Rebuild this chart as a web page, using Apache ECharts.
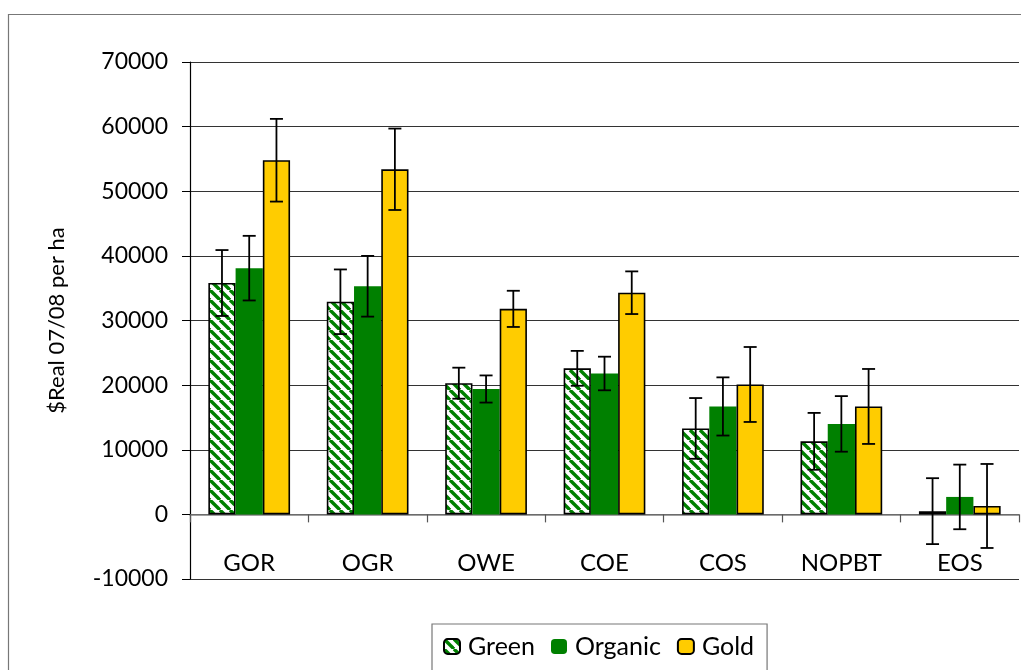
<!DOCTYPE html>
<html><head><meta charset="utf-8">
<script src="https://cdn.jsdelivr.net/npm/echarts@6/dist/echarts.min.js"></script>
<style>html,body{margin:0;padding:0;background:#fff}#c{width:1021px;height:670px}</style>
</head><body><div id="c"></div>
<script>
const categories = ['GOR','OGR','OWE','COE','COS','NOPBT','EOS'];
const seriesNames = ['Green','Organic','Gold'];
const greenVals = [35800, 32900, 20300, 22600, 13300, 11300, 500];
const greenErr  = [5100, 5000, 2400, 2700, 4700, 4400, 5100];
const organicVals = [38100, 35300, 19400, 21800, 16700, 14000, 2700];
const organicErr  = [5000, 4700, 2100, 2600, 4500, 4300, 5000];
const goldVals = [54800, 53400, 31800, 34300, 20100, 16700, 1300];
const goldErr  = [6400, 6300, 2800, 3300, 5800, 5800, 6500];
const yTicks = {min: -10000, max: 70000, interval: 10000};
const yName = '$Real 07/08 per ha';

function stripe(){
  const s = 10, c = document.createElement('canvas');
  c.width = s; c.height = s;
  const ctx = c.getContext('2d');
  ctx.fillStyle = '#ffffff'; ctx.fillRect(0,0,s,s);
  ctx.strokeStyle = '#008000'; ctx.lineWidth = 3.4;
  for (const x0 of [-s, 0, s]) { ctx.beginPath(); ctx.moveTo(x0,0); ctx.lineTo(x0+s,s); ctx.stroke(); }
  return {image: c, repeat: 'repeat'};
}
const FONT = 'Lato';
const BW = 0.23;
const vals = [greenVals, organicVals, goldVals];
const errs = [greenErr, organicErr, goldErr];
const styles = [
  {color: stripe(), borderColor: '#000', borderWidth: 1.6},
  {color: '#008000', borderWidth: 0},
  {color: '#FFCC00', borderColor: '#000', borderWidth: 1.6}
];
const series = seriesNames.map((n,i)=>({
  name: n, type: 'bar', data: vals[i], barWidth: (BW*100)+'%', barGap: '0%',
  itemStyle: styles[i], z: 2
}));
seriesNames.forEach((n,i)=>{
  series.push({
    type: 'custom', name: n + ' err', z: 5, silent: true,
    data: vals[i].map((v,k)=>[k, v, errs[i][k]]),
    encode: {x: 0, y: 1},
    renderItem: function(params, api){
      const k = api.value(0), v = api.value(1), e = api.value(2);
      const band = api.size([1,0])[0];
      const off = (i-1)*band*BW;
      const t = api.coord([k, v+e]), b = api.coord([k, v-e]);
      const x = t[0] + off, cap = 6.5;
      const st = {stroke: '#000', lineWidth: 1.8};
      return {type: 'group', children: [
        {type:'line', shape:{x1:x, y1:t[1], x2:x, y2:b[1]}, style: st},
        {type:'line', shape:{x1:x-cap, y1:t[1], x2:x+cap, y2:t[1]}, style: st},
        {type:'line', shape:{x1:x-cap, y1:b[1], x2:x+cap, y2:b[1]}, style: st}
      ]};
    }
  });
});

const chart = echarts.init(document.getElementById('c'), null, {renderer: 'canvas'});
chart.setOption({
  animation: false,
  backgroundColor: '#fff',
  graphic: [{type:'rect', z: -10, shape:{x: 8.5, y: 14.5, width: 1200, height: 800}, style:{fill:'none', stroke:'#777', lineWidth:1.2}}],
  grid: {left: 190, right: 2, top: 62, bottom: 91},
  legend: {
    data: seriesNames, left: 432, top: 624, orient: 'horizontal',
    borderColor: '#777', borderWidth: 1.2, padding: [10, 13, 20, 11],
    itemWidth: 16, itemHeight: 15, itemGap: 16,
    textStyle: {fontFamily: FONT, fontSize: 25, color: '#000', padding: [0,0,0,3]}
  },
  xAxis: {
    type: 'category', data: categories,
    axisLine: {onZero: true, lineStyle: {color: '#808080', width: 1.5}},
    axisTick: {show: true, length: 8, lineStyle: {color: '#555', width: 1.2}},
    axisLabel: {margin: -28, fontFamily: FONT, fontSize: 24, color: '#000'},
    splitLine: {show: false}
  },
  yAxis: {
    type: 'value', min: yTicks.min, max: yTicks.max, interval: yTicks.interval,
    name: yName, nameLocation: 'middle', nameGap: 122, nameRotate: 90,
    nameTextStyle: {fontFamily: FONT, fontSize: 22, color: '#000'},
    axisLine: {show: true, lineStyle: {color: '#000', width: 1.2}},
    axisTick: {show: true, length: 8, lineStyle: {color: '#000', width: 1}},
    axisLabel: {margin: 22, fontFamily: FONT, fontSize: 23, color: '#000', formatter: v => String(v)},
    splitLine: {show: true, lineStyle: {color: '#333', width: 1.2}}
  },
  series: series
});
</script></body></html>
